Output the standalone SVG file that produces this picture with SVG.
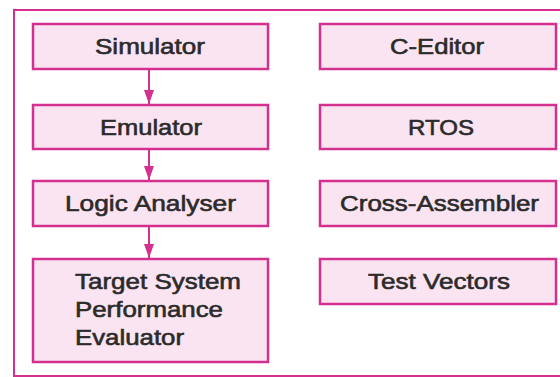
<svg xmlns="http://www.w3.org/2000/svg" width="560" height="377" viewBox="0 0 560 377">
<defs>
<style>
.box{fill:#fbe4f1;stroke:#d4308f;stroke-width:2.5}
.t{font-family:"Liberation Sans",Arial,sans-serif;font-size:22px;fill:#2b2b2b;stroke:#2b2b2b;stroke-width:0.6;text-anchor:middle}
.tl{text-anchor:start}
.c{stroke:#d4308f;stroke-width:2;fill:none}
</style>
<marker id="ah" viewBox="0 0 14 10" refX="14" refY="5" markerWidth="14" markerHeight="10" orient="auto" markerUnits="userSpaceOnUse">
<path d="M0,0 L14,5 L0,10 Z" fill="#d4308f"/>
</marker>
</defs>
<rect width="560" height="377" fill="#ffffff"/>
<path d="M562,10 H14 V376 H562" fill="none" stroke="#d4308f" stroke-width="2"/>
<g id="simulator"><rect class="box" x="33" y="24" width="235" height="45"/><text class="t" x="150" y="54" textLength="110" lengthAdjust="spacingAndGlyphs">Simulator</text></g>
<g id="emulator"><rect class="box" x="33" y="105" width="235" height="44"/><text class="t" x="151" y="135" textLength="102" lengthAdjust="spacingAndGlyphs">Emulator</text></g>
<g id="logic-analyser"><rect class="box" x="33" y="181" width="235" height="45"/><text class="t" x="150.5" y="211" textLength="171" lengthAdjust="spacingAndGlyphs">Logic Analyser</text></g>
<g id="target"><rect class="box" x="33" y="259" width="235" height="103"/><text class="t tl" x="75" y="289" textLength="166" lengthAdjust="spacingAndGlyphs">Target System</text><text class="t tl" x="75" y="317" textLength="148" lengthAdjust="spacingAndGlyphs">Performance</text><text class="t tl" x="75" y="345" textLength="109" lengthAdjust="spacingAndGlyphs">Evaluator</text></g>
<g id="c-editor"><rect class="box" x="320" y="24" width="236" height="45"/><text class="t" x="437" y="54" textLength="94" lengthAdjust="spacingAndGlyphs">C-Editor</text></g>
<g id="rtos"><rect class="box" x="320" y="105" width="236" height="44"/><text class="t" x="441" y="135" textLength="66" lengthAdjust="spacingAndGlyphs">RTOS</text></g>
<g id="cross-assembler"><rect class="box" x="320" y="181" width="236" height="45"/><text class="t" x="439.5" y="211" textLength="199" lengthAdjust="spacingAndGlyphs">Cross-Assembler</text></g>
<g id="test-vectors"><rect class="box" x="320" y="259" width="236" height="45"/><text class="t" x="439" y="289" textLength="142" lengthAdjust="spacingAndGlyphs">Test Vectors</text></g>
<g id="connectors">
<line class="c" x1="149" y1="70" x2="149" y2="104" marker-end="url(#ah)"/>
<line class="c" x1="149" y1="150" x2="149" y2="180" marker-end="url(#ah)"/>
<line class="c" x1="149" y1="227" x2="149" y2="258" marker-end="url(#ah)"/>
</g>
</svg>
